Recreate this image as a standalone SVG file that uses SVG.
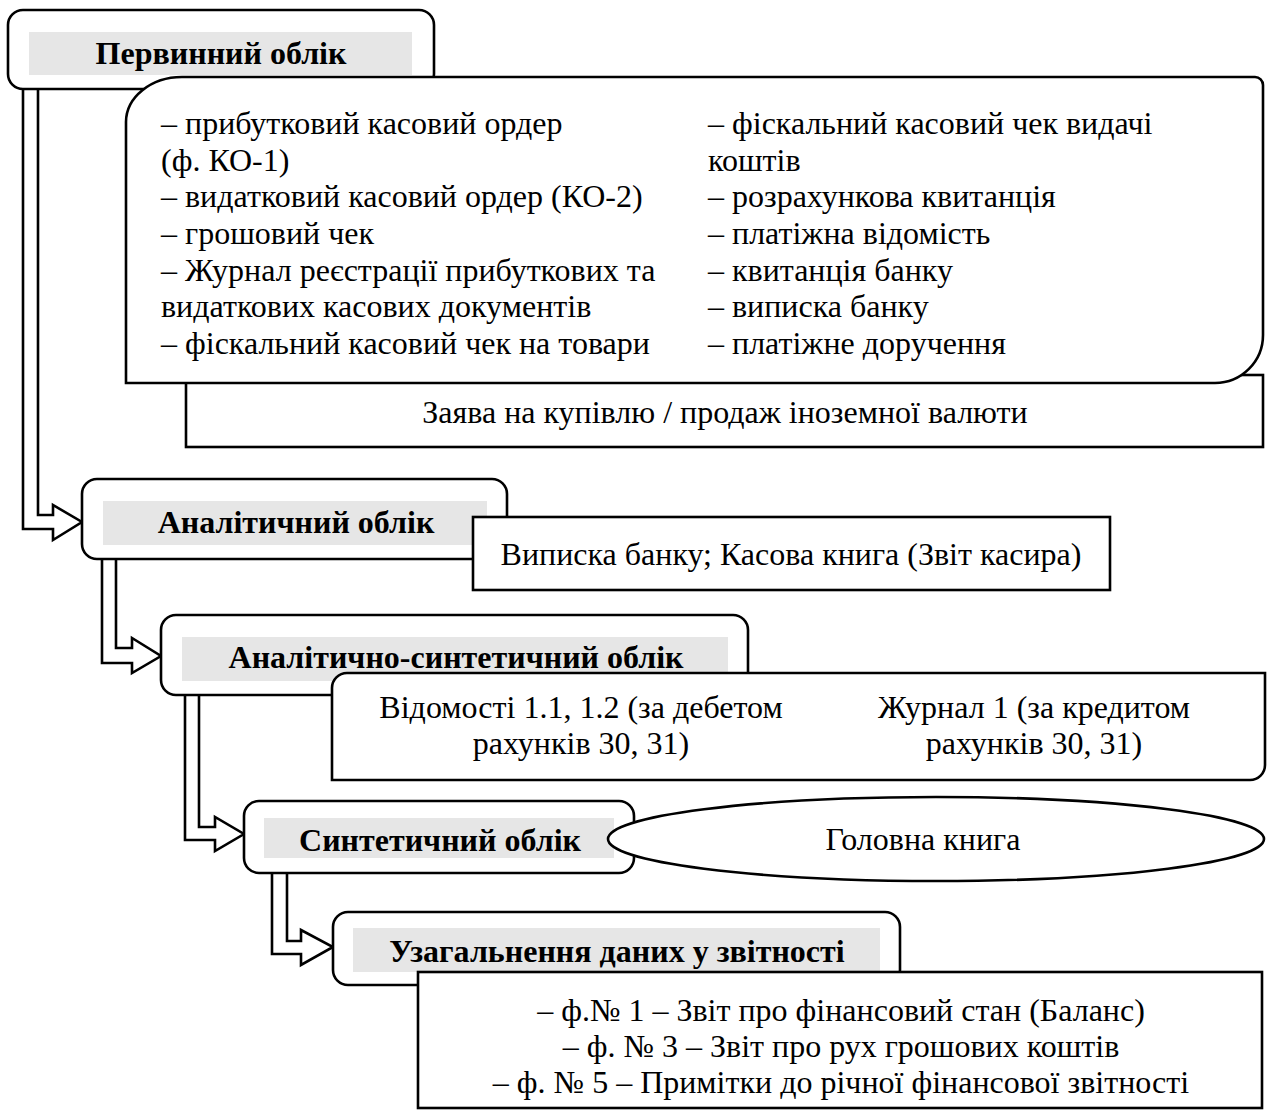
<svg xmlns="http://www.w3.org/2000/svg" width="1270" height="1120" viewBox="0 0 1270 1120">
<style>
.box{fill:#fff;stroke:#000;stroke-width:2.6}
.band{fill:#e6e6e6}
.conn{fill:#fff;stroke:#000;stroke-width:2.6;stroke-linejoin:miter}
.t{font-family:"Liberation Serif","Times New Roman",serif;font-size:32px;fill:#000}
.b{font-family:"Liberation Serif","Times New Roman",serif;font-size:32px;font-weight:bold;fill:#000;text-anchor:middle}
.c{text-anchor:middle}
</style>
<rect width="1270" height="1120" fill="#fff"/>
<g id="connectors">
<path class="conn" d="M23,89 V529 H53 V540 L82,522 L53,505 V515 H38 V89"/>
<path class="conn" d="M102,559 V663 H132 V673 L161,656 L132,638 V648 H116 V559"/>
<path class="conn" d="M185,695 V840 H215 V851 L244,834 L215,817 V827 H199 V695"/>
<path class="conn" d="M272,873 V954 H301 V965 L333,947 L301,930 V941 H287 V873"/>
</g>
<g id="n-primary">
<rect class="box" x="8" y="10" width="426" height="79" rx="15"/>
<rect class="band" x="29" y="32" width="383" height="43"/>
<text class="b" x="221" y="64">Первинний облік</text>
</g>
<g id="n-currency">
<rect class="box" x="186" y="375" width="1077" height="72"/>
<text class="t c" x="725" y="423">Заява на купівлю / продаж іноземної валюти</text>
</g>
<g id="n-docs">
<path class="box" d="M126,383 V122 A56 45 0 0 1 182,77 H1255 A8 8 0 0 1 1263,85 V335 A48 48 0 0 1 1215,383 Z"/>
<text class="t" x="161" y="134">– прибутковий касовий ордер</text>
<text class="t" x="161" y="171">(ф. КО-1)</text>
<text class="t" x="161" y="207">– видатковий касовий ордер (КО-2)</text>
<text class="t" x="161" y="244">– грошовий чек</text>
<text class="t" x="161" y="281">– Журнал реєстрації прибуткових та</text>
<text class="t" x="161" y="317">видаткових касових документів</text>
<text class="t" x="161" y="354">– фіскальний касовий чек на товари</text>
<text class="t" x="708" y="134">– фіскальний касовий чек видачі</text>
<text class="t" x="708" y="171">коштів</text>
<text class="t" x="708" y="207">– розрахункова квитанція</text>
<text class="t" x="708" y="244">– платіжна відомість</text>
<text class="t" x="708" y="281">– квитанція банку</text>
<text class="t" x="708" y="317">– виписка банку</text>
<text class="t" x="708" y="354">– платіжне доручення</text>
</g>
<g id="n-analytic">
<rect class="box" x="82" y="479" width="425" height="80" rx="15"/>
<rect class="band" x="103" y="501" width="384" height="44"/>
<text class="b" x="296" y="533">Аналітичний облік</text>
</g>
<g id="n-bankstatement">
<rect class="box" x="473" y="517" width="637" height="73"/>
<text class="t c" x="791" y="565">Виписка банку; Касова книга (Звіт касира)</text>
</g>
<g id="n-analytic-synthetic">
<rect class="box" x="161" y="615" width="587" height="80" rx="15"/>
<rect class="band" x="182" y="637" width="546" height="44"/>
<text class="b" x="456" y="668">Аналітично-синтетичний облік</text>
</g>
<g id="n-journals">
<path class="box" d="M332,780 V688 A15 15 0 0 1 347,673 H1265 V765 A15 15 0 0 1 1250,780 Z"/>
<text class="t c" x="581" y="718">Відомості 1.1, 1.2 (за дебетом</text>
<text class="t c" x="581" y="754">рахунків 30, 31)</text>
<text class="t c" x="1034" y="718">Журнал 1 (за кредитом</text>
<text class="t c" x="1034" y="754">рахунків 30, 31)</text>
</g>
<g id="n-synthetic">
<rect class="box" x="244" y="801" width="390" height="72" rx="15"/>
<rect class="band" x="264" y="818" width="350" height="40"/>
<text class="b" x="440" y="851">Синтетичний облік</text>
</g>
<g id="n-ledger">
<ellipse class="box" cx="936" cy="839" rx="328" ry="42"/>
<text class="t c" x="923" y="850">Головна книга</text>
</g>
<g id="n-reporting">
<rect class="box" x="333" y="912" width="567" height="73" rx="15"/>
<rect class="band" x="353" y="928" width="527" height="44"/>
<text class="b" x="617" y="962">Узагальнення даних у звітності</text>
</g>
<g id="n-forms">
<rect class="box" x="418" y="972" width="844" height="136"/>
<text class="t c" x="841" y="1021">– ф.№ 1 – Звіт про фінансовий стан (Баланс)</text>
<text class="t c" x="841" y="1057">– ф. № 3 – Звіт про рух грошових коштів</text>
<text class="t c" x="841" y="1093">– ф. № 5 – Примітки до річної фінансової звітності</text>
</g>
</svg>
